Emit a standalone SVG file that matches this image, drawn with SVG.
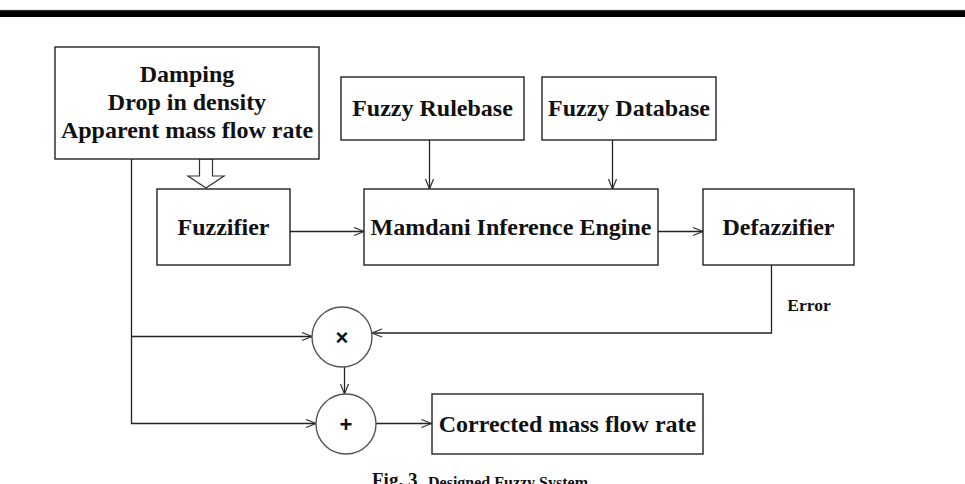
<svg xmlns="http://www.w3.org/2000/svg" width="965" height="484" viewBox="0 0 965 484">
<style>
.box{fill:#fff;stroke:#222;stroke-width:1.4}
.t{font-family:"Liberation Serif","Times New Roman",serif;font-weight:bold;fill:#111;text-anchor:middle}
.cap{font-family:"Liberation Serif","Times New Roman",serif;font-weight:bold;fill:#111;text-anchor:start}
.ln{fill:none;stroke:#222;stroke-width:1.3}
.circ{fill:#fff;stroke:#555;stroke-width:1.4}
.op{font-family:"Liberation Sans",Arial,sans-serif;font-weight:bold;fill:#111;text-anchor:middle}
</style>
<defs>
<marker id="ah" markerUnits="userSpaceOnUse" markerWidth="12" markerHeight="12" refX="11" refY="5" orient="auto">
<path d="M1,1 L11,5 L1,9" fill="none" stroke="#333" stroke-width="1.2"/>
</marker>
</defs>
<rect width="965" height="484" fill="#fff"/>
<rect x="0" y="10" width="965" height="7" fill="#000"/>
<line x1="0" y1="10.3" x2="965" y2="10.3" stroke="#555" stroke-width="0.8"/>

<g id="connectors">
<polygon points="199.5,159 199.5,176 188,176 206,188 224,176 212.5,176 212.5,159" fill="#fff" stroke="#333" stroke-width="1.2"/>
<path class="ln" d="M131.5,159 V423.5 H316" marker-end="url(#ah)"/>
<path class="ln" d="M131.5,336.5 H312" marker-end="url(#ah)"/>
<path class="ln" d="M290,231.5 H364" marker-end="url(#ah)"/>
<path class="ln" d="M658,231.5 H703" marker-end="url(#ah)"/>
<path class="ln" d="M429.5,140 V189" stroke="#555" marker-end="url(#ah)"/>
<path class="ln" d="M612.5,140 V189" stroke="#555" marker-end="url(#ah)"/>
<path class="ln" d="M771.5,265 V333 H372" marker-end="url(#ah)"/>
<path class="ln" d="M344.5,367 V394" stroke="#555" marker-end="url(#ah)"/>
<path class="ln" d="M376,423.5 H431.5" marker-end="url(#ah)"/>
<text class="t" x="809" y="311" font-size="17.5">Error</text>
</g>

<g id="inputs">
<rect class="box" x="55" y="47" width="264" height="112"/>
<text class="t" x="187" y="82" font-size="24">Damping</text>
<text class="t" x="187" y="110" font-size="24">Drop in density</text>
<text class="t" x="187" y="138" font-size="24">Apparent mass flow rate</text>
</g>

<g id="fuzzifier">
<rect class="box" x="157" y="189" width="133" height="76"/>
<text class="t" x="223.5" y="235" font-size="24">Fuzzifier</text>
</g>

<g id="rulebase">
<rect class="box" x="341" y="77" width="183" height="63"/>
<text class="t" x="432.5" y="116" font-size="24">Fuzzy Rulebase</text>
</g>

<g id="database">
<rect class="box" x="542" y="77" width="174" height="63"/>
<text class="t" x="629" y="116" font-size="24">Fuzzy Database</text>
</g>

<g id="engine">
<rect class="box" x="364" y="189" width="294" height="76"/>
<text class="t" x="511" y="235" font-size="24">Mamdani Inference Engine</text>
</g>

<g id="defuzzifier">
<rect class="box" x="703" y="189" width="151" height="76"/>
<text class="t" x="778.5" y="235" font-size="24">Defazzifier</text>
</g>

<g id="multiply">
<circle class="circ" cx="342" cy="337" r="30"/>
<text class="op" x="342" y="345" font-size="22">×</text>
</g>

<g id="add">
<circle class="circ" cx="346" cy="424" r="30"/>
<text class="op" x="346" y="432" font-size="22">+</text>
</g>

<g id="output">
<rect class="box" x="432" y="394" width="271" height="60"/>
<text class="t" x="567.5" y="432" font-size="24">Corrected mass flow rate</text>
</g>

<g id="caption">
<text class="cap" x="372" y="486" font-size="19">Fig. 3</text>
<text class="cap" x="428" y="487.5" font-size="16">Designed Fuzzy System</text>
</g>
</svg>
